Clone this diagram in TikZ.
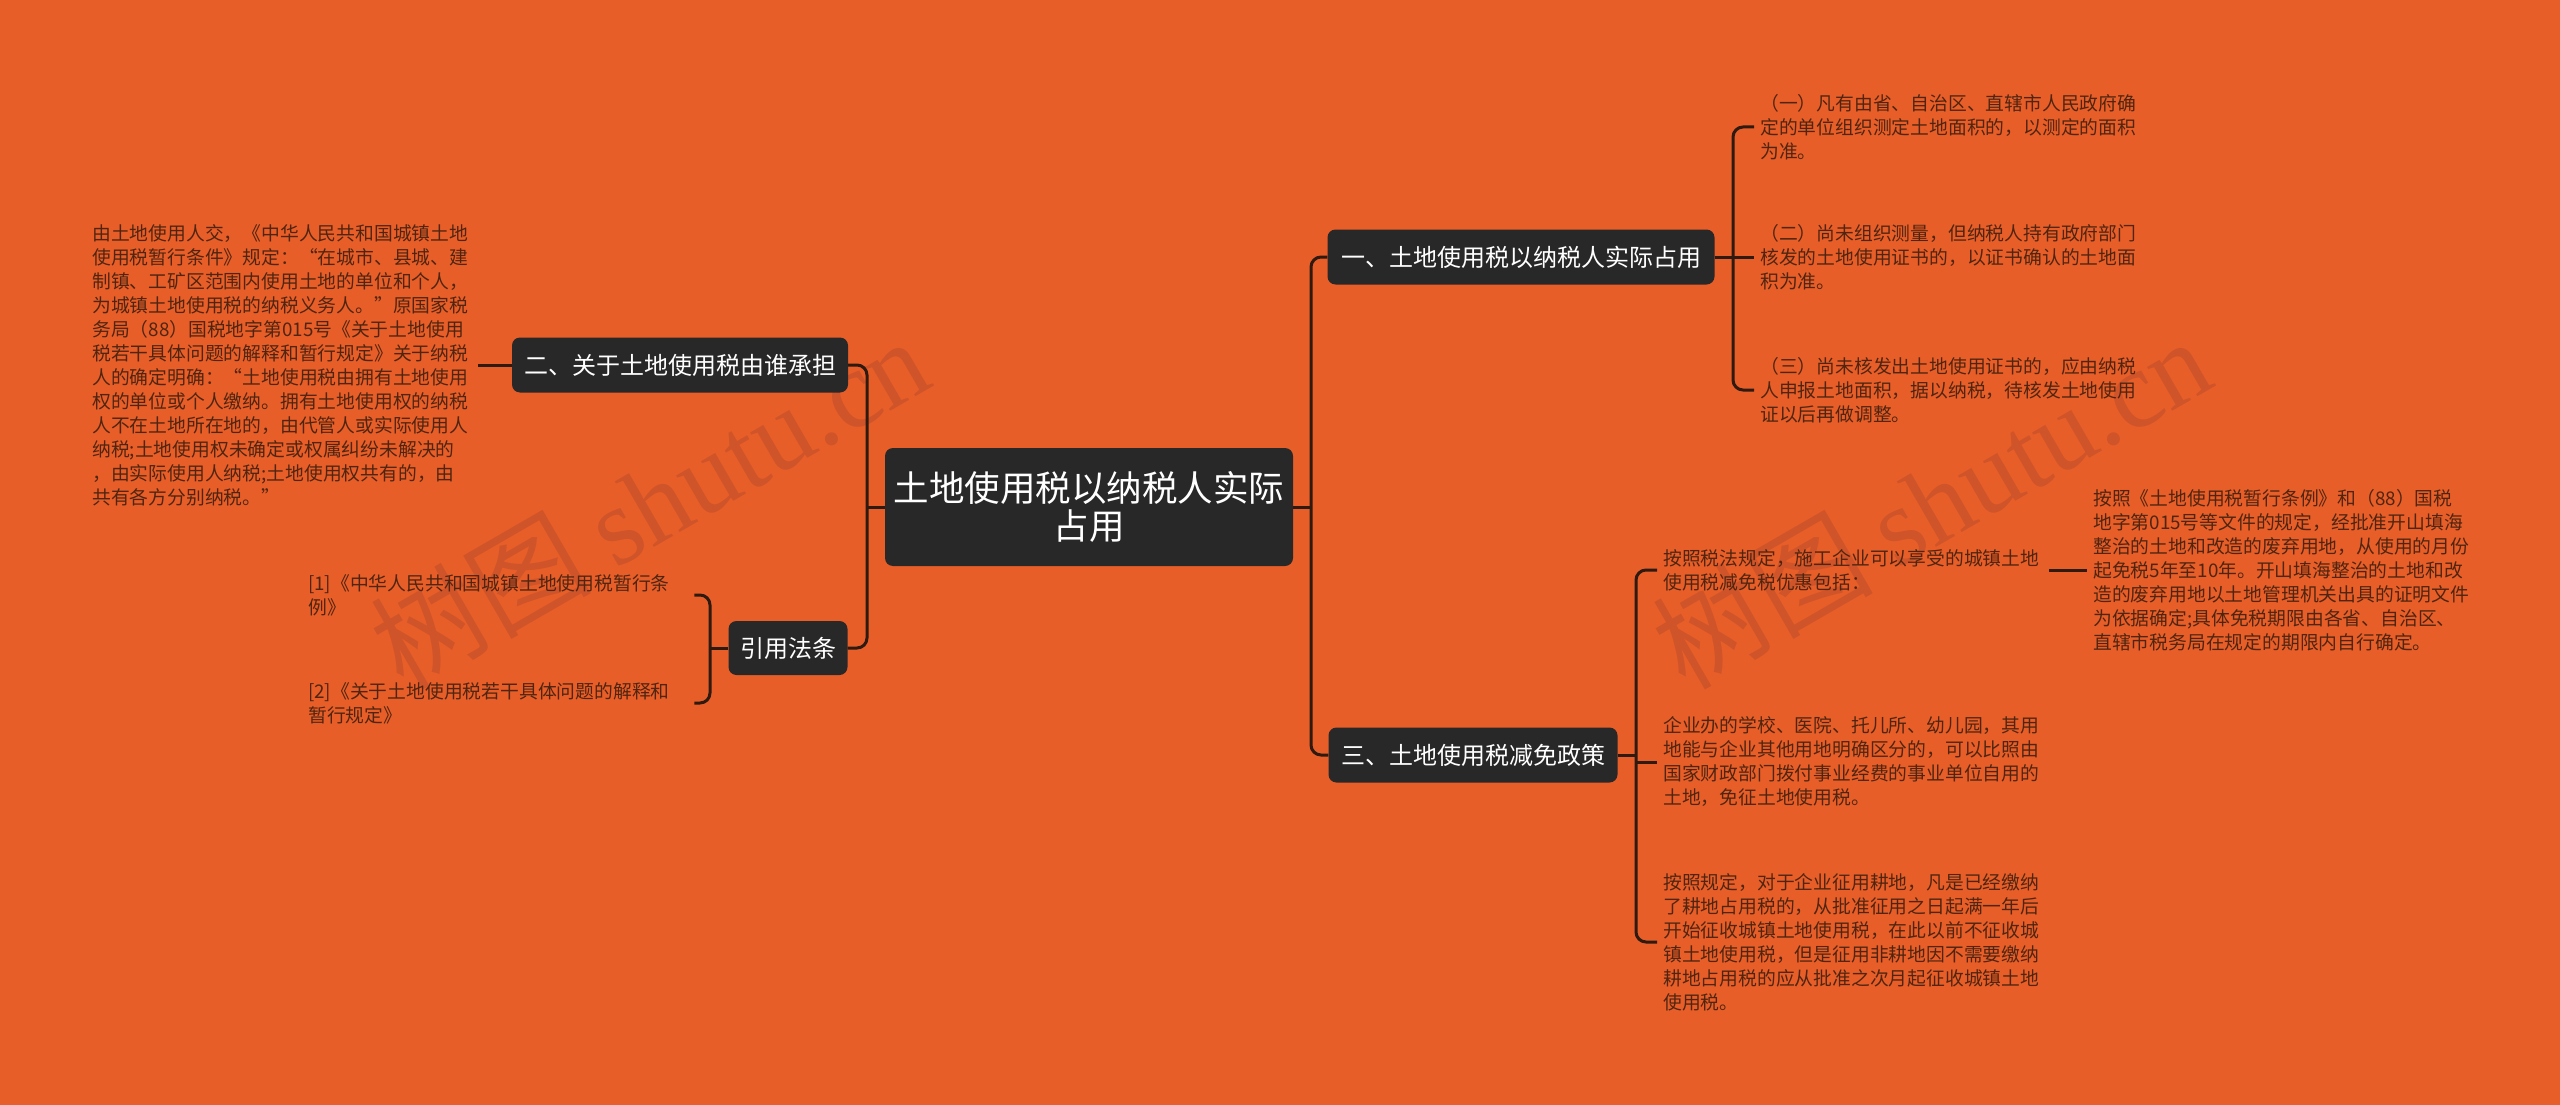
\documentclass[tikz,border=0pt]{standalone}
\usepackage{fontspec}
\setmainfont{Noto Sans CJK SC}
\newfontfamily\markfont{Liberation Serif}
\definecolor{bgorange}{HTML}{E85E28}
\definecolor{boxfill}{HTML}{282828}
\definecolor{linkcol}{HTML}{2E1A10}
\definecolor{leaftext}{HTML}{4F2511}
\definecolor{markcol}{HTML}{C9522A}
\begin{document}
\begin{tikzpicture}[x=1pt,y=-1pt,
    topic/.style={fill=boxfill, text=white, rounded corners=8pt, inner sep=0pt, align=center},
    branch/.style={topic, font=\fontsize{24}{28}\selectfont, minimum height=55pt},
    leaf/.style={anchor=west, inner xsep=6pt, inner ysep=0pt, text width=380pt, align=left,
                 text=leaftext, font=\fontsize{18.8}{24}\selectfont},
    link/.style={draw=linkcol, line width=3pt},
    elbow/.style={link, rounded corners=10pt}]
    \useasboundingbox (0,0) rectangle (2560,1105);
    \fill[bgorange] (0,0) rectangle (2560,1105); % background

    % watermark
    \node[rotate=30, text=markcol, opacity=.8, font=\fontsize{110}{110}\selectfont] (wmleft) at (649,502) {树图 {\markfont shutu.cn}};
    \node[rotate=30, text=markcol, opacity=.8, font=\fontsize{110}{110}\selectfont] (wmright) at (1931,502) {树图 {\markfont shutu.cn}};

    % centre and main topics
    \node[topic, font=\fontsize{35.5}{38}\selectfont, minimum width=408pt, minimum height=118pt] (root) at (1089,507) {土地使用税以纳税人实际\\占用};
    \node[branch, minimum width=387pt] (occupy) at (1521,257) {一、土地使用税以纳税人实际占用};
    \node[branch, minimum width=289pt] (relief) at (1473,755) {三、土地使用税减免政策};
    \node[branch, minimum width=336pt] (payer) at (680,365) {二、关于土地使用税由谁承担};
    \node[branch, minimum width=119pt, minimum height=54pt] (laws) at (788,648) {引用法条};

    % right side leaves
    \node[leaf] (area1) at (1754,127) {（一）凡有由省、自治区、直辖市人民政府确\\定的单位组织测定土地面积的，以测定的面积\\为准。};
    \node[leaf] (area2) at (1754,257) {（二）尚未组织测量，但纳税人持有政府部门\\核发的土地使用证书的，以证书确认的土地面\\积为准。};
    \node[leaf] (area3) at (1754,390) {（三）尚未核发出土地使用证书的，应由纳税\\人申报土地面积，据以纳税，待核发土地使用\\证以后再做调整。};
    \node[leaf] (rule1) at (1657,570) {按照税法规定，施工企业可以享受的城镇土地\\使用税减免税优惠包括：};
    \node[leaf] (rule2) at (1657,762) {企业办的学校、医院、托儿所、幼儿园，其用\\地能与企业其他用地明确区分的，可以比照由\\国家财政部门拨付事业经费的事业单位自用的\\土地，免征土地使用税。};
    \node[leaf] (rule3) at (1657,942) {按照规定，对于企业征用耕地，凡是已经缴纳\\了耕地占用税的，从批准征用之日起满一年后\\开始征收城镇土地使用税，在此以前不征收城\\镇土地使用税，但是征用非耕地因不需要缴纳\\耕地占用税的应从批准之次月起征收城镇土地\\使用税。};
    \node[leaf] (reclaim) at (2087,570) {按照《土地使用税暂行条例》和（88）国税\\地字第015号等文件的规定，经批准开山填海\\整治的土地和改造的废弃用地，从使用的月份\\起免税5年至10年。开山填海整治的土地和改\\造的废弃用地以土地管理机关出具的证明文件\\为依据确定;具体免税期限由各省、自治区、\\直辖市税务局在规定的期限内自行确定。};

    % left side leaves
    \node[leaf] (payertext) at (86,365) {由土地使用人交，《中华人民共和国城镇土地\\使用税暂行条件》规定：“在城市、县城、建\\制镇、工矿区范围内使用土地的单位和个人，\\为城镇土地使用税的纳税义务人。”原国家税\\务局（88）国税地字第015号《关于土地使用\\税若干具体问题的解释和暂行规定》关于纳税\\人的确定明确：“土地使用税由拥有土地使用\\权的单位或个人缴纳。拥有土地使用权的纳税\\人不在土地所在地的，由代管人或实际使用人\\纳税;土地使用权未确定或权属纠纷未解决的\\，由实际使用人纳税;土地使用权共有的，由\\共有各方分别纳税。”};
    \node[leaf] (law1) at (302,595) {[1]《中华人民共和国城镇土地使用税暂行条\\例》};
    \node[leaf] (law2) at (302,703) {[2]《关于土地使用税若干具体问题的解释和\\暂行规定》};

    % junctions
    \coordinate (rootright) at (1311,507);
    \coordinate (rootleft) at (867,507);
    \coordinate (occupyfork) at (1733,257);
    \coordinate (relieffork) at (1636,755);
    \coordinate (lawsfork) at (710,648);

    % connectors
    \draw[link] (root.east) -- (rootright);
    \draw[elbow] (occupy.west) -| (rootright) |- (relief.west);
    \draw[link] (root.west) -- (rootleft);
    \draw[elbow] (payer.east) -| (rootleft) |- (laws.east);

    \draw[link] (occupy.east) -- (area2.west);
    \draw[elbow] (area1.west) -| (occupyfork) |- (area3.west);

    \draw[link] (relief.east) -- (relieffork);
    \draw[elbow] (rule1.west) -| (relieffork) |- (rule3.west);
    \draw[link] (relieffork |- rule2.west) -- (rule2.west);
    \draw[link] (rule1.east) -- (reclaim.west);

    \draw[link] (payer.west) -- (payer.west -| payertext.east);
    \draw[link] (laws.west) -- (lawsfork);
    \draw[elbow] (law1.east) -| (lawsfork) |- (law2.east);
\end{tikzpicture}
\end{document}
